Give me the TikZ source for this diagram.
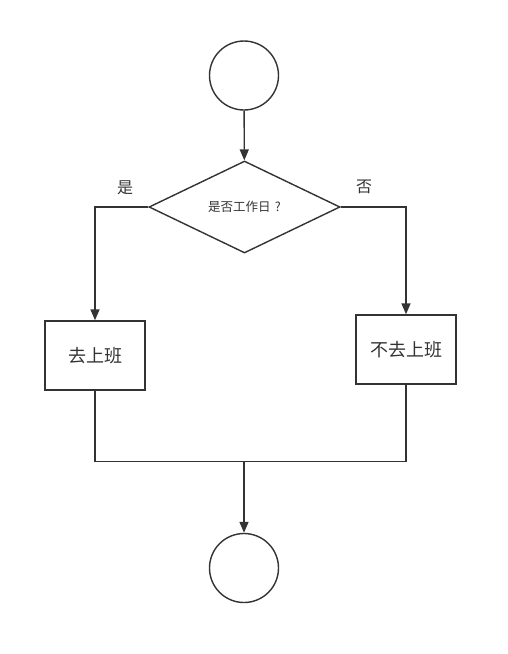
\documentclass[tikz,border=0pt]{standalone}
\usepackage{fontspec}
\newfontfamily\cjk{Noto Sans CJK SC}
\usetikzlibrary{arrows.meta,shapes.geometric}
\definecolor{linegray}{HTML}{333333}
\begin{document}
\begin{tikzpicture}[x=1pt, y=-1pt,
  line width=1.4pt, draw=linegray,
  terminal/.style={shape=circle, draw=linegray, minimum size=69pt, inner sep=0pt},
  decision/.style={shape=diamond, draw=linegray, minimum width=191pt, minimum height=92pt, inner sep=0pt, aspect=2.08, font=\cjk\fontsize{12.5}{14}\selectfont, text=linegray},
  process/.style={shape=rectangle, draw=linegray, minimum width=100pt, minimum height=69pt, font=\cjk\fontsize{18}{20}\selectfont, text=linegray},
  branch/.style={font=\cjk\fontsize{16}{18}\selectfont, text=linegray},
  flow/.style={-{Triangle[length=11pt, width=9pt]}, line width=1.4pt, draw=linegray}]
\useasboundingbox (0,0) rectangle (507,654);
\node[terminal] (start) at (244,75.5) {};
\node[decision] (ask) at (244.5,207) {是否工作日\,\,?};
\node[process] (work) at (95,355.5) {去上班};
\node[process] (rest) at (406,349.5) {不去上班};
\node[terminal] (stop) at (244,568) {};
\node[branch] (yes) at (125,188) {是};
\node[branch] (no) at (364,187) {否};
\coordinate (join) at (244,461.5);
\path [flow] (start) edge (ask);
\draw [flow] (ask.west) -| (work.north);
\draw [flow] (ask.east) -| (rest.north);
\draw [linegray] (work.south) |- (join);
\draw [linegray] (rest.south) |- (join);
\draw [flow] (join) -- (stop.north);
\end{tikzpicture}
\end{document}
